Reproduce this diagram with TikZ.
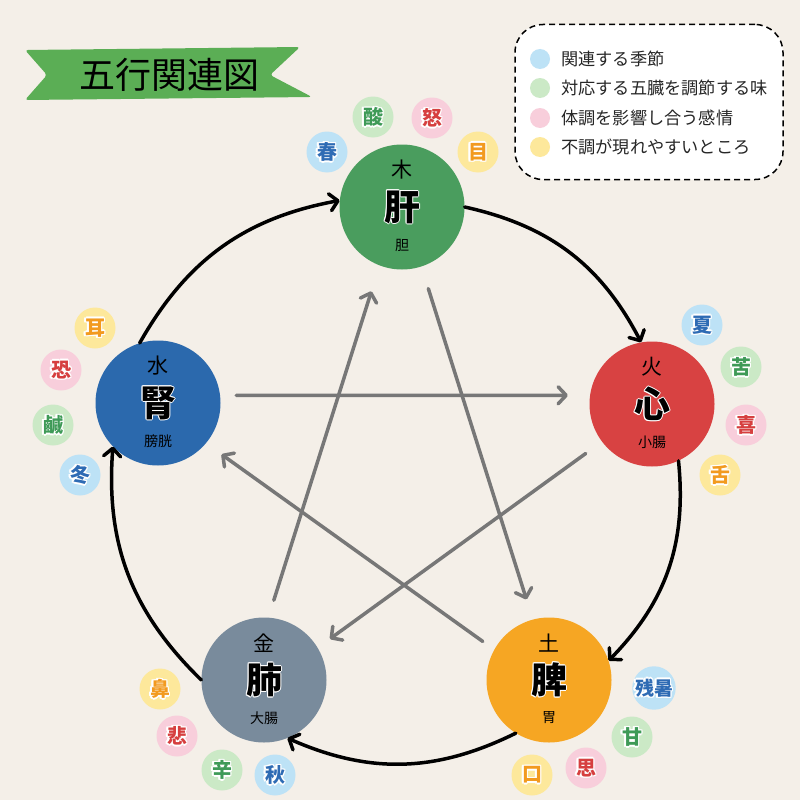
\documentclass[tikz,border=0pt]{standalone}
\usepackage{fontspec}
\setmainfont{Noto Sans CJK JP}
\usetikzlibrary{arrows.meta}

\definecolor{paper}{HTML}{F4EFE8}
\definecolor{woodgreen}{HTML}{4A9D5E}
\definecolor{firered}{HTML}{D84242}
\definecolor{earthorange}{HTML}{F6A623}
\definecolor{metalgray}{HTML}{798B9C}
\definecolor{waterblue}{HTML}{2B69AD}
\definecolor{seasonbg}{HTML}{BDE2F6}
\definecolor{tastebg}{HTML}{CBE9C6}
\definecolor{feelbg}{HTML}{F8CEDB}
\definecolor{sensebg}{HTML}{FDE89B}
\definecolor{seasontx}{HTML}{2E6BB4}
\definecolor{tastetx}{HTML}{3E9A57}
\definecolor{feeltx}{HTML}{D63F3F}
\definecolor{sensetx}{HTML}{F29A1F}
\definecolor{ribbon}{HTML}{5BAE55}
\definecolor{ctrlgray}{HTML}{777777}

% white rim round a glyph: white copies shifted all round, then the glyph
\newcommand{\rimcopy}[3]{\rlap{\kern#1\raisebox{#2}{\color{white}#3}}}
\newcommand{\halo}[2]{%
  \rimcopy{#1}{0pt}{#2}\rimcopy{-#1}{0pt}{#2}%
  \rimcopy{0pt}{#1}{#2}\rimcopy{0pt}{-#1}{#2}%
  \rimcopy{\dimexpr #1*7/10\relax}{\dimexpr #1*7/10\relax}{#2}%
  \rimcopy{\dimexpr -#1*7/10\relax}{\dimexpr #1*7/10\relax}{#2}%
  \rimcopy{\dimexpr #1*7/10\relax}{\dimexpr -#1*7/10\relax}{#2}%
  \rimcopy{\dimexpr -#1*7/10\relax}{\dimexpr -#1*7/10\relax}{#2}%
  #2}

\begin{document}
\begin{tikzpicture}[x=1pt,y=-1pt,
    organ/.style={circle,minimum size=125pt,inner sep=0pt,font=\fontsize{36}{36}\selectfont\bfseries},
    elem/.style={inner sep=0pt,font=\fontsize{21}{21}\selectfont},
    fu/.style={inner sep=0pt,font=\fontsize{14}{14}\selectfont},
    tag/.style={circle,minimum size=41pt,inner sep=0pt,font=\fontsize{20}{20}\selectfont\bfseries},
    season/.style={tag,fill=seasonbg,text=seasontx},
    taste/.style={tag,fill=tastebg,text=tastetx},
    feel/.style={tag,fill=feelbg,text=feeltx},
    sense/.style={tag,fill=sensebg,text=sensetx},
    genarrow/.style={draw=black,line width=3.5pt,line cap=round,line join=round,
      -{Straight Barb[length=8pt,width=17pt,line cap=round,line join=round]}},
    ctrlarrow/.style={genarrow,draw=ctrlgray}]

  \fill[paper] (0,0) rectangle (800,800);
  \useasboundingbox (0,0) rectangle (800,800);

  % title ribbon
  \fill[ribbon,rounded corners=3pt] (25,50) -- (300,47) -- (270,75) -- (312,97)
    -- (25,100) -- (47,75) -- cycle;
  \node[font=\fontsize{36}{36}\selectfont] (title) at (169,75) {五行関連図};

  % legend
  \node[draw,dashed,dash pattern=on 6pt off 4pt,line width=1.5pt,fill=white,
    rounded corners=28pt,minimum width=268pt,minimum height=155pt] (legend) at (649,102) {};
  \begin{scope}[every node/.style={circle,minimum size=20pt,inner sep=0pt}]
    \node[fill=seasonbg] (dot1) at (540,59) {};
    \node[fill=tastebg]  (dot2) at (540,88) {};
    \node[fill=feelbg]   (dot3) at (540,118) {};
    \node[fill=sensebg]  (dot4) at (540,147) {};
  \end{scope}
  \begin{scope}[every node/.style={anchor=west,inner sep=0pt,text=black!85,
      font=\fontsize{17.2}{17.2}\selectfont}]
    \node (key1) at (561,59)  {関連する季節};
    \node (key2) at (561,88)  {対応する五臓を調節する味};
    \node (key3) at (561,118) {体調を影響し合う感情};
    \node (key4) at (561,147) {不調が現れやすいところ};
  \end{scope}

  % five organs
  \node[organ,fill=woodgreen]   (wood)  at (402,207) {\halo{1pt}{肝}};
  \node[organ,fill=firered]     (fire)  at (652,404) {\halo{1pt}{心}};
  \node[organ,fill=earthorange] (earth) at (549,680) {\halo{1pt}{脾}};
  \node[organ,fill=metalgray]   (metal) at (264,680) {\halo{1pt}{肺}};
  \node[organ,fill=waterblue]   (water) at (158,403) {\halo{1pt}{腎}};

  \node[elem] (woodel)  at (402,170) {木};
  \node[elem] (fireel)  at (652,367) {火};
  \node[elem] (earthel) at (549,643) {土};
  \node[elem] (metalel) at (264,643) {金};
  \node[elem] (waterel) at (158,366) {水};

  \node[fu] (woodfu)  at (402,245) {胆};
  \node[fu] (firefu)  at (652,442) {小腸};
  \node[fu] (earthfu) at (549,718) {胃};
  \node[fu] (metalfu) at (264,718) {大腸};
  \node[fu] (waterfu) at (158,441) {膀胱};

  % tags round each organ
  \node[season] (haru)  at (327,152) {\halo{1.5pt}{春}};
  \node[taste]  (san)   at (373,117) {\halo{1.5pt}{酸}};
  \node[feel]   (ikari) at (432,118) {\halo{1.5pt}{怒}};
  \node[sense]  (me)    at (478,152) {\halo{1.5pt}{目}};

  \node[season] (natsu)    at (702,325) {\halo{1.5pt}{夏}};
  \node[taste]  (ku)       at (741,367) {\halo{1.5pt}{苦}};
  \node[feel]   (yorokobi) at (746,425) {\halo{1.5pt}{喜}};
  \node[sense]  (shita)    at (720,475) {\halo{1.5pt}{舌}};

  \node[season,font=\fontsize{19}{19}\selectfont\bfseries] (zansho) at (654,688) {\halo{1.5pt}{残暑}};
  \node[taste]  (kan)      at (632,737) {\halo{1.5pt}{甘}};
  \node[feel]   (omoi)     at (586,768) {\halo{1.5pt}{思}};
  \node[sense]  (kuchi)    at (532,775) {\halo{1.5pt}{口}};

  \node[sense]  (hana)     at (160,689) {\halo{1.5pt}{鼻}};
  \node[feel]   (kanashi)  at (177,736) {\halo{1.5pt}{悲}};
  \node[taste]  (shin)     at (222,770) {\halo{1.5pt}{辛}};
  \node[season] (aki)      at (275,775) {\halo{1.5pt}{秋}};

  \node[sense]  (mimi)     at (95,328)  {\halo{1.5pt}{耳}};
  \node[feel]   (osore)    at (61,370)  {\halo{1.5pt}{恐}};
  \node[taste]  (kan2)     at (53,425)  {\halo{1.5pt}{鹹}};
  \node[season] (fuyu)     at (80,475)  {\halo{1.5pt}{冬}};

  % generating cycle
  \draw[genarrow] (wood.0)     to[bend left=25] (fire.100);
  \draw[genarrow] (fire.-65)   to[bend left=25] (earth.18);
  \draw[genarrow] (earth.-122) to[bend left=25] (metal.-68);
  \draw[genarrow] (metal.180)  to[bend left=25] (water.-136);
  \draw[genarrow] (water.107)  to[bend left=25] (wood.174);

  % controlling star
  \draw[ctrlarrow,shorten <=23pt,shorten >=21pt] (wood.-72)   -- (earth.105);
  \draw[ctrlarrow,shorten <=14pt,shorten >=19pt] (earth.151)  -- (water.-40);
  \draw[ctrlarrow,shorten <=16pt,shorten >=22pt] (water.7)    -- (fire.172);
  \draw[ctrlarrow,shorten <=20pt,shorten >=15pt] (fire.-143)  -- (metal.31);
  \draw[ctrlarrow,shorten <=18pt,shorten >=27pt] (metal.86)   -- (wood.-111);

\end{tikzpicture}
\end{document}
